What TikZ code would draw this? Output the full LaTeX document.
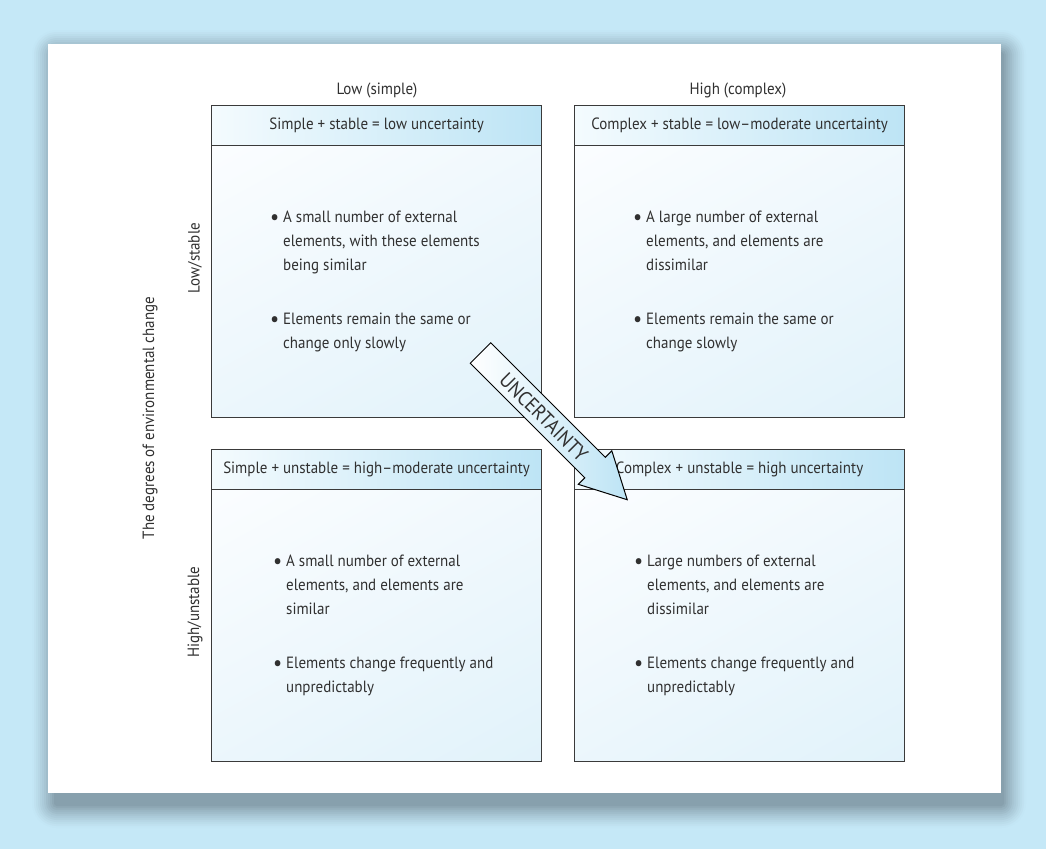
\documentclass[tikz,border=0pt]{standalone}
\usepackage{fontspec}
\setmainfont{PT Sans}[FakeStretch=0.92]
\usetikzlibrary{calc,shadings}
\definecolor{bg}{HTML}{C5E8F7}
\definecolor{shd}{HTML}{87A0AD}
\definecolor{hdr}{HTML}{BDE4F5}
\definecolor{hdrl}{HTML}{F4FBFE}
\definecolor{bodyl}{HTML}{FBFDFF}
\definecolor{bodyd}{HTML}{E1F2FA}
\definecolor{txt}{HTML}{303030}
\definecolor{edge}{HTML}{3A3A3A}
\newcommand{\bul}[1]{\hangindent=13pt\hangafter=1\noindent\makebox[13pt][l]{\raisebox{-0.12em}{\scalebox{1.35}{\textbullet}}}#1\par}
\newcommand{\boxtext}[2]{\parbox{240pt}{\bul{#1}\vspace{30pt}\bul{#2}}}
\tikzset{
  hdrbox/.style={draw=edge, line width=1.2pt, left color=hdrl, right color=hdr, minimum width=330, minimum height=40, anchor=north west, inner sep=0pt},
  bodybox/.style={draw=edge, line width=1.2pt, upper left=bodyl, upper right=bodyd!40!bodyl, lower left=bodyd!60!bodyl, lower right=bodyd, minimum width=330, minimum height=272, anchor=north west, inner sep=0pt},
  bodytext/.style={anchor=west, inner sep=0pt},
  lbl/.style={inner sep=0pt},
  arrowshape/.style={draw=black, line width=1pt, left color=white, right color=hdr}
}
\begin{document}
\begin{tikzpicture}[x=1pt,y=-1pt, font=\fontsize{16.3}{24}\selectfont, text=txt]
\useasboundingbox (0,0) rectangle (1046,849);
\fill[bg] (0,0) rectangle (1046,849);
% blurred shadow
\foreach \k in {0,...,12} {
  \pgfmathsetmacro\e{24-2*\k}
  \pgfmathsetmacro\r{\e+3}
  \pgfmathtruncatemacro\p{100*(\k/12)^1.3}
  \fill[shd!\p!bg, rounded corners=\r pt] (54-\e,52-\e) rectangle (1004+\e,806+\e);
}
\fill[white] (48,44) rectangle (1001,793);

% column / row labels
\node[lbl] (c1) at (377,90) {Low (simple)};
\node[lbl] (c2) at (738,90) {High (complex)};
\node[lbl, rotate=90] (r1) at (195,258) {Low/stable};
\node[lbl, rotate=90] (r2) at (195,612) {High/unstable};
\node[lbl, rotate=90] (ax) at (150,418) {The degrees of environmental change};

% boxes
\node[bodybox] (b1) at (211,145) {};
\node[hdrbox] (h1) at (211,105) {Simple + stable = low uncertainty};
\node[bodybox] (b2) at (574,145) {};
\node[hdrbox] (h2) at (574,105) {Complex + stable = low–moderate uncertainty};
\node[bodybox] (b3) at (211,489) {};
\node[hdrbox] (h3) at (211,449) {Simple + unstable = high–moderate uncertainty};
\node[bodybox] (b4) at (574,489) {};
\node[hdrbox] (h4) at (574,449) {Complex + unstable = high uncertainty};

\node[bodytext] (t1) at (270,281) {\boxtext{A small number of external\\elements, with these elements\\being similar}{Elements remain the same or\\change only slowly}};
\node[bodytext] (t2) at (633,281) {\boxtext{A large number of external\\elements, and elements are\\dissimilar}{Elements remain the same or\\change slowly}};
\node[bodytext] (t3) at (273,625) {\boxtext{A small number of external\\elements, and elements are\\similar}{Elements change frequently and\\unpredictably}};
\node[bodytext] (t4) at (634,625) {\boxtext{Large numbers of external\\elements, and elements are\\dissimilar}{Elements change frequently and\\unpredictably}};

% uncertainty arrow
\begin{scope}[shift={(480.5,353)}, rotate=-45]
  \shade[arrowshape] (0,-14.5) -- (162,-14.5) -- (162,-23.7) -- (207.5,0) -- (162,23.7) -- (162,14.5) -- (0,14.5) -- cycle;
  \node[lbl, transform shape, font=\fontsize{20.5}{20}\selectfont] (u) at (90,0.5) {UNCERTAINTY};
\end{scope}
\end{tikzpicture}
\end{document}
